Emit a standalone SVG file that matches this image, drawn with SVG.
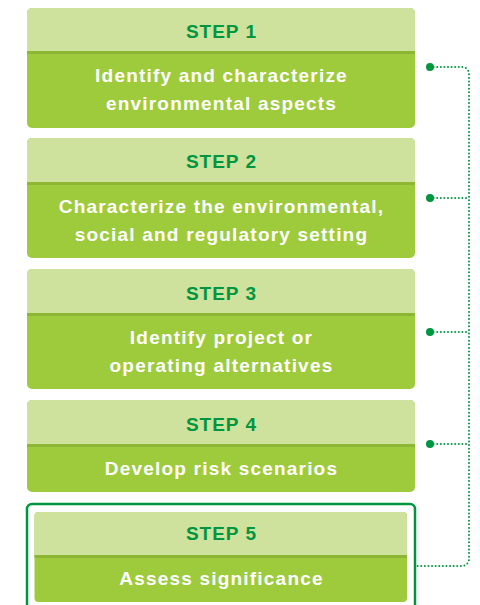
<svg xmlns="http://www.w3.org/2000/svg" width="480" height="605" viewBox="0 0 480 605">
<defs>
<style>
.hd{fill:#cee19d}
.bd{fill:#9ecb3c}
.dv{fill:#8cb634}
.st{font-family:"Liberation Sans",Arial,sans-serif;font-weight:bold;font-size:19px;letter-spacing:1px;fill:#00963f;text-anchor:middle}
.tx{font-family:"Liberation Sans",Arial,sans-serif;font-weight:bold;font-size:19px;letter-spacing:1.2px;fill:#ffffff;text-anchor:middle}
.con{fill:none;stroke:#00963f;stroke-width:2;stroke-dasharray:0 3.6;stroke-linecap:round}
.dot{fill:#00963f}
</style>
</defs>
<g id="step1">
<rect class="bd" x="27" y="8" width="388" height="120" rx="5"/>
<path class="hd" d="M27 52 V13 a5 5 0 0 1 5 -5 H410 a5 5 0 0 1 5 5 V52 Z"/>
<rect class="dv" x="27" y="51" width="388" height="3"/>
<text class="st" x="221.5" y="38">STEP 1</text>
<text class="tx" x="221.5" y="82">Identify and characterize</text>
<text class="tx" x="221.5" y="110">environmental aspects</text>
</g>
<g id="step2">
<rect class="bd" x="27" y="138" width="388" height="120" rx="5"/>
<path class="hd" d="M27 183 V143 a5 5 0 0 1 5 -5 H410 a5 5 0 0 1 5 5 V183 Z"/>
<rect class="dv" x="27" y="182" width="388" height="3"/>
<text class="st" x="221.5" y="168">STEP 2</text>
<text class="tx" x="221.5" y="213">Characterize the environmental,</text>
<text class="tx" x="221.5" y="241">social and regulatory setting</text>
</g>
<g id="step3">
<rect class="bd" x="27" y="269" width="388" height="120" rx="5"/>
<path class="hd" d="M27 314 V274 a5 5 0 0 1 5 -5 H410 a5 5 0 0 1 5 5 V314 Z"/>
<rect class="dv" x="27" y="313" width="388" height="3"/>
<text class="st" x="221.5" y="300">STEP 3</text>
<text class="tx" x="221.5" y="344">Identify project or</text>
<text class="tx" x="221.5" y="372">operating alternatives</text>
</g>
<g id="step4">
<rect class="bd" x="27" y="400" width="388" height="92" rx="5"/>
<path class="hd" d="M27 445 V405 a5 5 0 0 1 5 -5 H410 a5 5 0 0 1 5 5 V445 Z"/>
<rect class="dv" x="27" y="444" width="388" height="3"/>
<text class="st" x="221.5" y="431">STEP 4</text>
<text class="tx" x="221.5" y="475">Develop risk scenarios</text>
</g>
<g id="step5">
<rect x="27" y="504" width="388" height="110" rx="5" fill="none" stroke="#00963f" stroke-width="2.5"/>
<rect class="bd" x="34.5" y="512" width="372.5" height="90" rx="4"/>
<path class="hd" d="M34.5 556 V516 a4 4 0 0 1 4 -4 H403 a4 4 0 0 1 4 4 V556 Z"/>
<rect class="dv" x="34.5" y="555" width="372.5" height="3"/>
<text class="st" x="221.5" y="540">STEP 5</text>
<text class="tx" x="221.5" y="585">Assess significance</text>
</g>
<g id="connectors">
<path class="con" d="M430 67 H462 a7 7 0 0 1 7 7 V559 a7 7 0 0 1 -7 7 H416"/>
<path class="con" d="M430 198 H469"/>
<path class="con" d="M430 332 H469"/>
<path class="con" d="M430 444 H469"/>
<circle class="dot" cx="430" cy="67" r="4"/>
<circle class="dot" cx="430" cy="198" r="4"/>
<circle class="dot" cx="430" cy="332" r="4"/>
<circle class="dot" cx="430" cy="444" r="4"/>
</g>
</svg>
